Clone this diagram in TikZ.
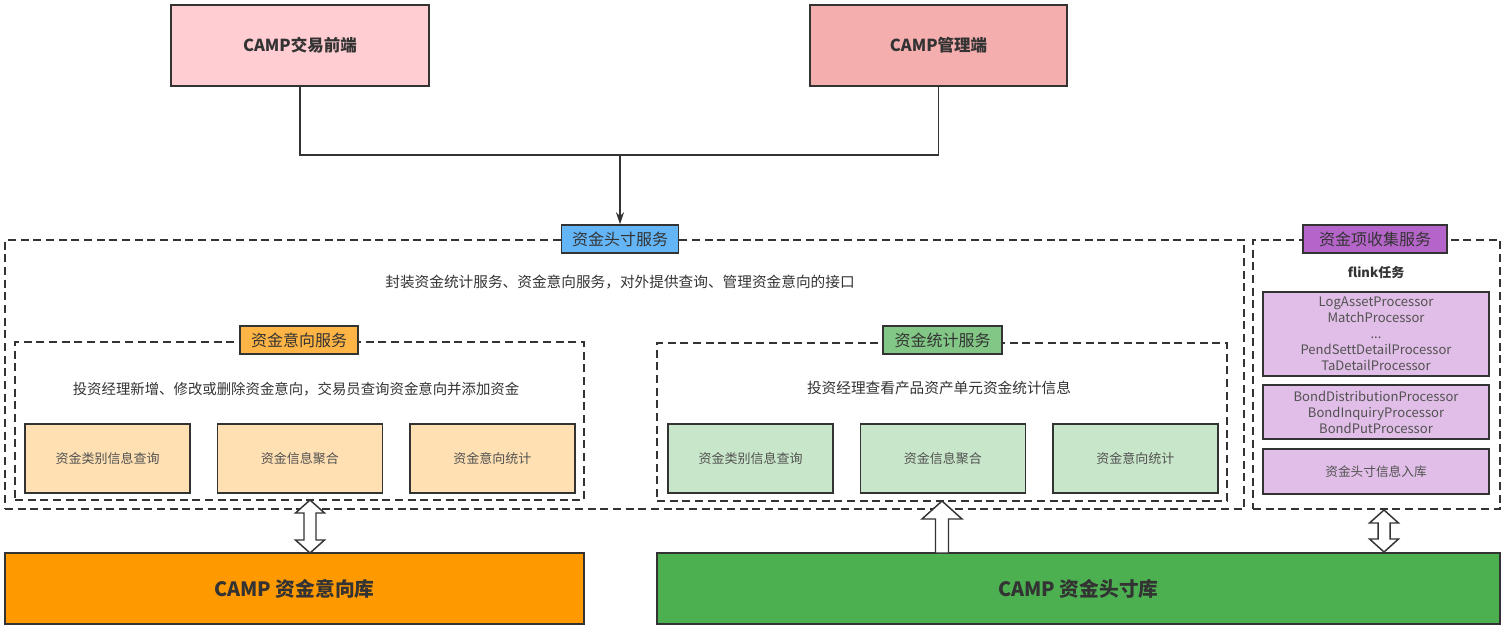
\documentclass[tikz,border=0pt]{standalone}
\usepackage{fontspec}
\setmainfont{Noto Sans CJK SC}
\usetikzlibrary{positioning,arrows.meta,calc}
\definecolor{ink}{HTML}{333333}
\definecolor{frontfill}{HTML}{FFCDD2}
\definecolor{adminfill}{HTML}{F4AEAE}
\definecolor{svcfill}{HTML}{64B5F6}
\definecolor{intenttag}{HTML}{FFB545}
\definecolor{stattag}{HTML}{82C785}
\definecolor{collecttag}{HTML}{B565C9}
\definecolor{intentfill}{HTML}{FFE0B2}
\definecolor{statfill}{HTML}{C8E6C9}
\definecolor{procfill}{HTML}{E1BEE7}
\definecolor{intentdbfill}{HTML}{FF9900}
\definecolor{posdbfill}{HTML}{4CAF50}
\newcommand{\hollowdouble}[2]{%
  \draw[hollow] (#1) -- ++(14.5,13) -- ++(-8.5,0) -- ($(#2)+(6,-13)$) -- ++(8.5,0)
    -- (#2) -- ++(-14.5,-13) -- ++(8.5,0) -- ($(#1)+(-6,13)$) -- ++(-8.5,0) -- cycle;}
\newcommand{\hollowup}[2]{%
  \draw[hollow] (#1) -- ++(20,18) -- ++(-13.5,0) -- ($(#2)+(6.5,0)$) -- ++(-13,0)
    -- ($(#1)+(-6.5,18)$) -- ++(-13.5,0) -- cycle;}

\begin{document}
\begin{tikzpicture}[x=0.75pt, y=-0.75pt,
box/.style={rectangle, draw=ink, line width=1.1pt, text=ink, inner sep=0pt},
topbox/.style={box, minimum width=193.5pt, minimum height=60.75pt, font=\fontsize{12.4}{15}\selectfont\bfseries},
group/.style={rectangle, draw=ink, line width=1.1pt, dash pattern=on 6pt off 3.5pt, inner sep=0pt},
tag/.style={box, minimum height=21pt, font=\fontsize{12}{14}\selectfont},
desc/.style={text=ink, font=\fontsize{11}{13}\selectfont},
part/.style={box, minimum width=123.75pt, minimum height=51.75pt, text=ink!85, font=\fontsize{9.75}{12}\selectfont},
task/.style={box, fill=procfill, minimum width=169.5pt, align=center, text=ink!85, font=\fontsize{9.8}{12}\selectfont},
store/.style={box, minimum height=53.25pt, font=\fontsize{14.8}{17}\selectfont\bfseries},
link/.style={draw=ink, line width=1.1pt},
hollow/.style={draw=ink, line width=1.1pt, fill=white, line join=miter}
]
    \useasboundingbox (0,0) rectangle (1505,631);

    %Clients
    \node[topbox, fill=frontfill] (front) at (300,45.5) {CAMP交易前端};
    \node[topbox, fill=adminfill, minimum width=192.75pt] (admin) at (938.5,45.5) {CAMP管理端};

    %Groups
    \node[group, minimum width=929.25pt, minimum height=201.75pt] (svc) at (624.5,374.5) {};
    \node[group, minimum width=426.75pt, minimum height=118.5pt] (intent) at (299.5,421) {};
    \node[group, minimum width=427.5pt, minimum height=118.5pt] (stat) at (942,422) {};
    \node[group, minimum width=185.25pt, minimum height=201.75pt] (collect) at (1376.5,374.5) {};

    %Tags
    \node[tag, fill=svcfill, minimum width=87.75pt] (svctag) at (620,239) {资金头寸服务};
    \node[tag, fill=intenttag, minimum width=88.5pt] (intenttag) at (299,340) {资金意向服务};
    \node[tag, fill=stattag, minimum width=89.25pt] (stattag) at (942.5,340) {资金统计服务};
    \node[tag, fill=collecttag, minimum width=108pt] (collecttag) at (1375,239) {资金项收集服务};

    %Descriptions
    \node[desc] (svcdesc) at (620,282) {封装资金统计服务、资金意向服务，对外提供查询、管理资金意向的接口};
    \node[desc, font=\fontsize{10.8}{13}\selectfont] (intentdesc) at (296,389) {投资经理新增、修改或删除资金意向，交易员查询资金意向并添加资金};
    \node[desc] (statdesc) at (939,388) {投资经理查看产品资产单元资金统计信息};
    \node[text=ink, font=\fontsize{9.75}{12}\selectfont\bfseries] (flink) at (1376,273) {flink任务};

    %Parts
    \node[part, fill=intentfill] (i1) at (107.5,458.5) {资金类别信息查询};
    \node[part, fill=intentfill, right=19.5pt of i1] (i2) {资金信息聚合};
    \node[part, fill=intentfill, right=19.5pt of i2] (i3) {资金意向统计};
    \node[part, fill=statfill] (s1) at (750.5,458.5) {资金类别信息查询};
    \node[part, fill=statfill, right=19.5pt of s1] (s2) {资金信息聚合};
    \node[part, fill=statfill, right=19.5pt of s2] (s3) {资金意向统计};

    %Tasks
    \node[task, minimum height=63pt] (p1) at (1376,334)
        {LogAssetProcessor\\MatchProcessor\\...\\PendSettDetailProcessor\\TaDetailProcessor};
    \node[task, minimum height=40.5pt] (p2) at (1376,412)
        {BondDistributionProcessor\\BondInquiryProcessor\\BondPutProcessor};
    \node[task, minimum height=33.75pt, font=\fontsize{9.5}{12}\selectfont] (p3) at (1376,471.5) {资金头寸信息入库};

    %Stores
    \node[store, fill=intentdbfill, minimum width=434.25pt] (intentdb) at (294.5,588.5) {CAMP 资金意向库};
    \node[store, fill=posdbfill, minimum width=632.25pt] (posdb) at (1078.5,588.5) {CAMP 资金头寸库};

    %Lines
    \coordinate (join) at (620,155);
    \draw[link] (front.south) |- (join);
    \draw[link] (admin.south) |- (join);
    \draw[link, -{Stealth[length=9pt, width=6pt]}] (join) -- (svctag.north);

    %Hollow arrows
    \coordinate (intent io) at (310,500);
    \coordinate (intentdb io) at (310,553);
    \coordinate (stat in) at (942,501);
    \coordinate (posdb out) at (942,553);
    \coordinate (collect io) at (1384,510);
    \coordinate (posdb io) at (1384,552);
    \hollowdouble{intent io}{intentdb io}
    \hollowup{stat in}{posdb out}
    \hollowdouble{collect io}{posdb io}
\end{tikzpicture}
\end{document}
